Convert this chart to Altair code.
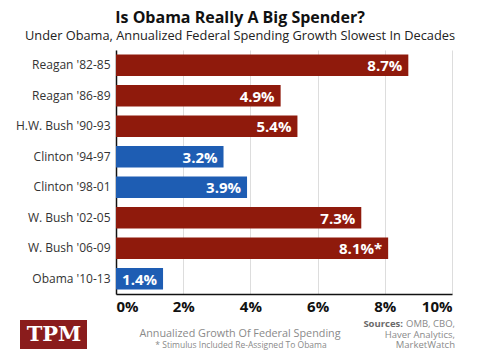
import altair as alt
import pandas as pd

periods = ["Reagan '82-85", "Reagan '86-89", "H.W. Bush '90-93", "Clinton '94-97",
           "Clinton '98-01", "W. Bush '02-05", "W. Bush '06-09", "Obama '10-13"]
growth = [8.7, 4.9, 5.4, 3.2, 3.9, 7.3, 8.1, 1.4]
party = ["R", "R", "R", "D", "D", "R", "R", "D"]
labels = ["8.7%", "4.9%", "5.4%", "3.2%", "3.9%", "7.3%", "8.1%*", "1.4%"]
x_ticks = [0, 2, 4, 6, 8, 10]

RED = "#8f1a0c"
BLUE = "#1e5db3"
FONT = "Open Sans"

df = pd.DataFrame({"period": periods, "growth": growth, "party": party, "label": labels})

W, H = 336, 244

y_enc = alt.Y("period:N", sort=periods, title=None,
              scale=alt.Scale(paddingInner=0.3, paddingOuter=0.15),
              axis=alt.Axis(labelFont=FONT, labelFontSize=12, labelColor="#333333",
                            labelPadding=6, ticks=False, domainColor="#111111",
                            domainWidth=1.5, grid=False, labelLimit=200))
x_enc = alt.X("growth:Q", title=None,
              scale=alt.Scale(domain=[0, 10], nice=False),
              axis=alt.Axis(values=x_ticks, labelExpr="datum.value + '%'",
                            labelFont=FONT, labelFontSize=15, labelFontWeight="bold",
                            labelColor="#111111", labelPadding=5, ticks=False,
                            domainColor="#111111", domainWidth=1.5,
                            grid=True, gridColor="#dddddd", gridWidth=1))

bars = alt.Chart(df).mark_bar(cornerRadius=0).encode(
    y=y_enc, x=x_enc,
    color=alt.Color("party:N", scale=alt.Scale(domain=["R", "D"], range=[RED, BLUE]), legend=None),
)

bar_text = alt.Chart(df).mark_text(align="right", baseline="middle", dx=-6, dy=1,
                                   font=FONT, fontSize=15, fontWeight="bold",
                                   color="white").encode(
    y=alt.Y("period:N", sort=periods), x="growth:Q", text="label:N")

# footer elements
one = df.head(1)
logo_box = alt.Chart(one).mark_rect(color="#8a1c1c").encode(
    x=alt.value(-96), x2=alt.value(-29), y=alt.value(270), y2=alt.value(299))
logo_text = alt.Chart(one).mark_text(
    text="TPM", font="DejaVu Serif", fontSize=21, fontWeight="bold", color="white",
    align="center", baseline="middle").encode(x=alt.value(-62), y=alt.value(285))

foot1 = alt.Chart(one).mark_text(
    text="Annualized Growth Of Federal Spending", font=FONT, fontSize=10.8,
    color="#8a8a8a", align="center", baseline="middle").encode(x=alt.value(124), y=alt.value(284))
foot2 = alt.Chart(one).mark_text(
    text="* Stimulus Included Re-Assigned To Obama", font=FONT, fontSize=8.5,
    color="#8a8a8a", align="center", baseline="middle").encode(x=alt.value(125), y=alt.value(295))

SRC = 9.5
src_bold = alt.Chart(one).mark_text(
    text="Sources:", font=FONT, fontSize=SRC, fontWeight="bold",
    color="#6a6a6a", align="right", baseline="middle").encode(x=alt.value(287), y=alt.value(274))
src1 = alt.Chart(one).mark_text(
    text="OMB, CBO,", font=FONT, fontSize=SRC,
    color="#8a8a8a", align="right", baseline="middle").encode(x=alt.value(339), y=alt.value(274))
src2 = alt.Chart(one).mark_text(
    text="Haver Analytics,", font=FONT, fontSize=SRC,
    color="#8a8a8a", align="right", baseline="middle").encode(x=alt.value(339), y=alt.value(284.5))
src3 = alt.Chart(one).mark_text(
    text="MarketWatch", font=FONT, fontSize=SRC,
    color="#8a8a8a", align="right", baseline="middle").encode(x=alt.value(339), y=alt.value(295))

chart = alt.layer(bars, bar_text, logo_box, logo_text, foot1, foot2,
                  src_bold, src1, src2, src3).properties(
    width=W, height=H,
    autosize=alt.AutoSizeParams(type="none"),
    padding={"left": 108, "right": 20, "top": 42, "bottom": 58},
    background="white",
    title=alt.TitleParams(
        text="Is Obama Really A Big Spender?",
        subtitle="Under Obama, Annualized Federal Spending Growth Slowest In Decades",
        font=FONT, fontSize=16, fontWeight="bold", color="#111111",
        subtitleFont=FONT, subtitleFontSize=12.8, subtitleColor="#222222",
        subtitlePadding=4, anchor="middle", dx=-44, offset=7),
).configure_view(stroke=None)

chart.save("out.html", embed_options={"renderer": "svg", "actions": False})
